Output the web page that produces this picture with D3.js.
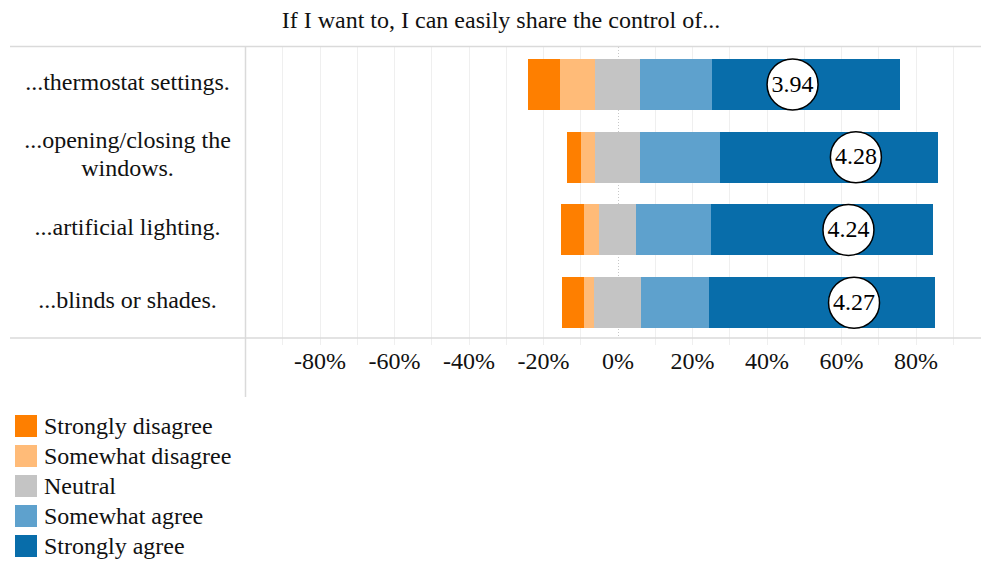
<!DOCTYPE html>
<html>
<head>
<meta charset="utf-8">
<script src="https://cdn.jsdelivr.net/npm/d3@7"></script>
<style>
  html, body { margin: 0; padding: 0; background: #fff; }
  svg, svg text { font-family: 'Liberation Serif', Tinos, 'Times New Roman', Times, 'DejaVu Serif', serif; }
  svg { display: block; }
</style>
</head>
<body>
<svg id="chart" width="981" height="563"></svg>
<script>
// Survey items (statement endings)
const categories = [
  "...thermostat settings.",
  "...opening/closing the windows.",
  "...artificial lighting.",
  "...blinds or shades."
];

// Response levels, from most negative to most positive
const responses = ["Strongly disagree", "Somewhat disagree", "Neutral", "Somewhat agree", "Strongly agree"];
const responseColors = ["#fe7f00", "#ffbb78", "#c4c4c4", "#5ea1cd", "#086daa"];

// Share of respondents per response level, per item
const stronglyDisagree = [0.086, 0.038, 0.060, 0.060];
const somewhatDisagree = [0.095, 0.038, 0.041, 0.027];
const neutral          = [0.119, 0.119, 0.100, 0.125];
const somewhatAgree    = [0.195, 0.216, 0.200, 0.183];
const stronglyAgree    = [0.503, 0.584, 0.597, 0.608];

// Mean score on the 1–5 scale
const means = [3.94, 4.28, 4.24, 4.27];

// Axis labels
const tickValues = [-0.8, -0.6, -0.4, -0.2, 0, 0.2, 0.4, 0.6, 0.8];

const title = "If I want to, I can easily share the control of...";

const series = [stronglyDisagree, somewhatDisagree, neutral, somewhatAgree, stronglyAgree];

// Diverging layout: neutral is centred on zero
const rows = categories.map((c, i) => {
  const vals = series.map(s => s[i]);
  let start = -(vals[0] + vals[1] + vals[2] / 2);
  const segs = vals.map((v, k) => {
    const seg = { key: responses[k], color: responseColors[k], x0: start, x1: start + v };
    start += v;
    return seg;
  });
  return { category: c, segs, mean: means[i] };
});

const FONT = "'Liberation Serif', Tinos, 'Times New Roman', Times, 'DejaVu Serif', serif";
const svg = d3.select("#chart");
const W = 981;
const plotLeft = 245, frameLeft = 10, plotTop = 47, plotBottom = 338;

const x = d3.scaleLinear().domain([-1, 1]).range([plotLeft, 990]);
const y = d3.scaleBand().domain(categories).range([48, 339]).paddingInner(0.3).paddingOuter(0.15);
// mean score 1..5 placed on the same diverging axis (-100%..100%)
const meanScale = d3.scaleLinear().domain([1, 5]).range([x(-1), x(1)]);

const lineColor = "#dadada";

// Title
svg.append("text")
  .attr("x", 501).attr("y", 28)
  .attr("text-anchor", "middle")
  .attr("font-family", FONT)
  .attr("font-size", 24)
  .attr("fill", "#111")
  .text(title);

// Vertical grid lines every 10%
const grid = x.ticks(20).filter(t => Math.abs(t) < 0.999 && Math.abs(t) > 1e-9);
svg.append("g").selectAll("line").data(grid).join("line")
  .attr("x1", d => Math.round(x(d)) + 0.5).attr("x2", d => Math.round(x(d)) + 0.5)
  .attr("y1", plotTop).attr("y2", plotBottom + 7)
  .attr("stroke", "#efefef").attr("stroke-width", 1);

// Zero reference line
svg.append("line")
  .attr("x1", Math.round(x(0)) + 0.5).attr("x2", Math.round(x(0)) + 0.5)
  .attr("y1", plotTop).attr("y2", plotBottom)
  .attr("stroke", "#c8c8c8").attr("stroke-width", 1)
  .attr("stroke-dasharray", "1,2");

// Frame lines
svg.append("line").attr("x1", frameLeft).attr("x2", W).attr("y1", plotTop - 0.5).attr("y2", plotTop - 0.5)
  .attr("stroke", lineColor).attr("stroke-width", 1.5);
svg.append("line").attr("x1", frameLeft).attr("x2", W).attr("y1", plotBottom).attr("y2", plotBottom)
  .attr("stroke", lineColor).attr("stroke-width", 1.5);
svg.append("line").attr("x1", plotLeft + 0.5).attr("x2", plotLeft + 0.5).attr("y1", plotTop).attr("y2", 397)
  .attr("stroke", lineColor).attr("stroke-width", 1.5);

// Bars
const rowG = svg.append("g").selectAll("g").data(rows).join("g")
  .attr("transform", d => `translate(0,${y(d.category)})`);

rowG.selectAll("rect").data(d => d.segs).join("rect")
  .attr("x", d => x(d.x0))
  .attr("width", d => x(d.x1) - x(d.x0))
  .attr("y", 0)
  .attr("height", y.bandwidth())
  .attr("fill", d => d.color)
  .attr("shape-rendering", "crispEdges");

// Mean markers
rowG.append("circle")
  .attr("cx", d => meanScale(d.mean))
  .attr("cy", y.bandwidth() / 2)
  .attr("r", 25.5)
  .attr("fill", "#fff")
  .attr("stroke", "#000")
  .attr("stroke-width", 1.5);

rowG.append("text")
  .attr("x", d => meanScale(d.mean))
  .attr("y", y.bandwidth() / 2)
  .attr("dy", "0.3em")
  .attr("text-anchor", "middle")
  .attr("font-family", FONT)
  .attr("font-size", 24)
  .attr("fill", "#000")
  .text(d => d3.format(".2f")(d.mean));

// Category labels, wrapped to fit the label column
const labelCenter = (frameLeft + plotLeft) / 2;
const labelWidth = 225;
const lineHeight = 28;
svg.append("g").selectAll("text").data(categories).join("text")
  .attr("text-anchor", "middle")
  .attr("font-family", FONT)
  .attr("font-size", 24)
  .attr("fill", "#111")
  .each(function(d) {
    const t = d3.select(this);
    const words = d.split(" ");
    const lines = [];
    let cur = [];
    const probe = t.append("tspan");
    words.forEach(w => {
      const trial = cur.concat(w).join(" ");
      probe.text(trial);
      if (probe.node().getComputedTextLength() > labelWidth && cur.length) {
        lines.push(cur.join(" "));
        cur = [w];
      } else {
        cur.push(w);
      }
    });
    lines.push(cur.join(" "));
    probe.remove();
    const cy = y(d) + y.bandwidth() / 2;
    const first = cy - (lines.length - 1) * lineHeight / 2;
    lines.forEach((ln, i) => {
      t.append("tspan")
        .attr("x", labelCenter)
        .attr("y", first + i * lineHeight)
        .attr("dy", "0.22em")
        .text(ln);
    });
  });

// X axis labels
const pct = v => Math.round(v * 100) + "%";
const axis = d3.axisBottom(x).tickValues(tickValues).tickFormat(pct).tickSize(0).tickPadding(0);
const axisG = svg.append("g").attr("transform", `translate(0,${plotBottom})`).call(axis)
  .attr("font-family", FONT);
axisG.select(".domain").remove();
axisG.selectAll("text")
  .attr("y", 31)
  .attr("dy", 0)
  .attr("font-size", 24)
  .attr("font-family", FONT)
  .attr("fill", "#111");

// Legend
const legend = svg.append("g").selectAll("g").data(responses).join("g")
  .attr("transform", (d, i) => `translate(15,${415 + i * 30})`);
legend.append("rect")
  .attr("width", 22).attr("height", 22)
  .attr("fill", (d, i) => responseColors[i]);
legend.append("text")
  .attr("x", 29).attr("y", 19)
  .attr("font-family", FONT)
  .attr("font-size", 24)
  .attr("fill", "#111")
  .text(d => d);
</script>
</body>
</html>
